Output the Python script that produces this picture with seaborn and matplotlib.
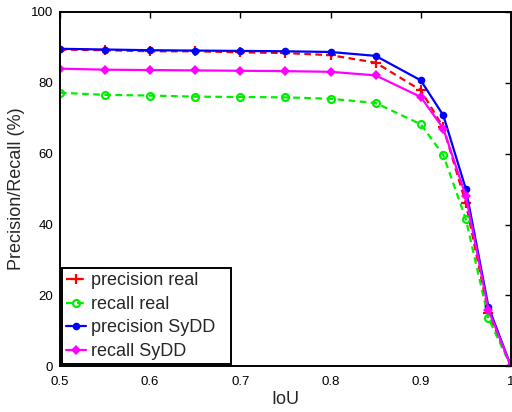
import numpy as np
import pandas as pd
import matplotlib
matplotlib.use("Agg")
import matplotlib.pyplot as plt
from matplotlib.patches import Rectangle
import seaborn as sns

iou = [0.5, 0.55, 0.6, 0.65, 0.7, 0.75, 0.8, 0.85, 0.9, 0.925, 0.95, 0.975, 1.0]
precision_real = [89.4, 89.2, 88.9, 88.9, 88.6, 88.4, 87.8, 85.7, 77.9, 67.4, 46.0, 15.0, 0.0]
recall_real = [77.2, 76.6, 76.4, 76.1, 76.0, 75.9, 75.5, 74.3, 68.3, 59.6, 41.5, 13.5, 0.0]
precision_sydd = [89.6, 89.4, 89.2, 89.1, 89.0, 88.9, 88.7, 87.6, 80.7, 70.8, 50.0, 16.8, 0.0]
recall_sydd = [84.0, 83.7, 83.6, 83.5, 83.4, 83.3, 83.1, 82.1, 76.0, 67.1, 48.0, 15.9, 0.0]

xticks = [0.5, 0.6, 0.7, 0.8, 0.9, 1.0]
xticklabels = ["0.5", "0.6", "0.7", "0.8", "0.9", "1"]
yticks = [0, 20, 40, 60, 80, 100]

sns.set_style("white")
plt.rcParams['font.family'] = ['Liberation Sans', 'DejaVu Sans']

fig = plt.figure(figsize=(5.12, 4.12), dpi=100)
ax = fig.add_axes([0.117, 0.111, 0.881, 0.860])

series = [
    ("precision real", precision_real, dict(color="#ff0000", linestyle=(0, (3, 2)), marker="+", markersize=7,
                                            markeredgewidth=1.6, markeredgecolor="#ff0000")),
    ("recall real", recall_real, dict(color="#00ee00", linestyle=(0, (3, 2)), marker="o", markersize=5,
                                      markerfacecolor="none", markeredgewidth=1.6, markeredgecolor="#00ee00")),
    ("precision SyDD", precision_sydd, dict(color="#0000ff", linestyle="-", marker="o", markersize=5.5,
                                            markeredgewidth=0)),
    ("recall SyDD", recall_sydd, dict(color="#ff00ff", linestyle="-", marker="D", markersize=5.5,
                                      markeredgewidth=0)),
]
for name, vals, kw in series:
    df = pd.DataFrame({"IoU": iou, "val": vals})
    sns.lineplot(data=df, x="IoU", y="val", ax=ax, label=name, linewidth=1.6, **kw)

ax.set_xlim(0.5, 1.0)
ax.set_ylim(0, 100)
ax.set_xticks(xticks)
ax.set_xticklabels(xticklabels)
ax.set_yticks(yticks)
ax.tick_params(direction="in", length=4, width=1, top=True, right=True, labelsize=9.5, colors="black")
ax.tick_params(axis="x", pad=7)
ax.tick_params(axis="y", pad=5)
for s in ax.spines.values():
    s.set_color("black")
    s.set_linewidth(1.4)
ax.set_xlabel("IoU", fontsize=13, labelpad=2)
ax.set_ylabel("Precision/Recall (%)", fontsize=13, labelpad=4)

leg = ax.legend(loc="lower left", fontsize=13, frameon=False, handlelength=1.1,
                handletextpad=0.25, borderpad=0.25, labelspacing=0.36, borderaxespad=0.1)
leg.set_zorder(10)

# MATLAB-style legend box with extra room on the right
fig.canvas.draw()
bb = leg.get_window_extent().transformed(fig.transFigure.inverted())
extra = 12 / 512
ax.add_artist(Rectangle((bb.x0, bb.y0), bb.width + extra, bb.height, transform=fig.transFigure,
                        facecolor="white", edgecolor="black", linewidth=1.4, zorder=9, clip_on=False))

fig.savefig("out.png", dpi=100)
